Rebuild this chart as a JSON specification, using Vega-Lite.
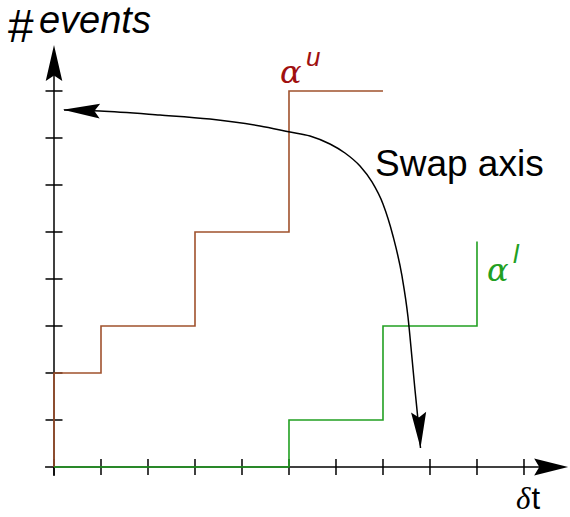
{
  "$schema": "https://vega.github.io/schema/vega-lite/v6.json",
  "width": 570,
  "height": 517,
  "padding": 0,
  "autosize": "none",
  "background": "white",
  "config": {"view": {"stroke": null}},
  "encoding": {
    "x": {"field": "x", "type": "quantitative", "axis": null, "scale": {"domain": [-1.149, 10.979], "nice": false, "zero": false}},
    "y": {"field": "y", "type": "quantitative", "axis": null, "scale": {"domain": [-1.064, 9.936], "nice": false, "zero": false}}
  },
  "layer": [
    {
      "data": {"values": [
        {"x": -0.19, "y": 0, "x2": 10.6, "y2": 0},
        {"x": 0, "y": -0.19, "x2": 0, "y2": 8.6}
      ]},
      "mark": {"type": "rule", "color": "black", "strokeWidth": 1.5},
      "encoding": {"x2": {"field": "x2"}, "y2": {"field": "y2"}}
    },
    {
      "data": {"values": [
        {"x": 0, "y": 0}, {"x": 1, "y": 0}, {"x": 2, "y": 0}, {"x": 3, "y": 0},
        {"x": 4, "y": 0}, {"x": 5, "y": 0}, {"x": 6, "y": 0}, {"x": 7, "y": 0},
        {"x": 8, "y": 0}, {"x": 9, "y": 0}, {"x": 10, "y": 0}
      ]},
      "mark": {"type": "tick", "orient": "vertical", "color": "black", "size": 16, "thickness": 1.5, "opacity": 1}
    },
    {
      "data": {"values": [
        {"x": 0, "y": 1}, {"x": 0, "y": 2}, {"x": 0, "y": 3}, {"x": 0, "y": 4},
        {"x": 0, "y": 5}, {"x": 0, "y": 6}, {"x": 0, "y": 7}, {"x": 0, "y": 8}
      ]},
      "mark": {"type": "tick", "orient": "horizontal", "color": "black", "size": 17, "thickness": 1.5, "opacity": 1}
    },
    {
      "data": {"values": [
        {"x": 0, "y": 0}, {"x": 0, "y": 2}, {"x": 1, "y": 3}, {"x": 3, "y": 5}, {"x": 5, "y": 8}, {"x": 7, "y": 8}
      ]},
      "mark": {"type": "line", "interpolate": "step-after", "color": "#a0522d", "strokeWidth": 1.6}
    },
    {
      "data": {"values": [
        {"x": 0, "y": 0}, {"x": 5, "y": 1}, {"x": 7, "y": 3}, {"x": 9, "y": 4.8}
      ]},
      "mark": {"type": "line", "interpolate": "step-after", "color": "#22a022", "strokeWidth": 1.6}
    },
    {
      "data": {"values": [
        {"x": 0.213, "y": 7.596}, {"x": 0.979, "y": 7.574}, {"x": 2.255, "y": 7.489},
        {"x": 3.319, "y": 7.404}, {"x": 4.383, "y": 7.255}, {"x": 5.021, "y": 7.128},
        {"x": 5.447, "y": 7.043}, {"x": 5.872, "y": 6.872}, {"x": 6.191, "y": 6.681},
        {"x": 6.511, "y": 6.404}, {"x": 6.766, "y": 6.064}, {"x": 7.0, "y": 5.596},
        {"x": 7.213, "y": 4.915}, {"x": 7.404, "y": 4.064}, {"x": 7.532, "y": 3.191},
        {"x": 7.617, "y": 2.319}, {"x": 7.681, "y": 1.638}, {"x": 7.745, "y": 1.0},
        {"x": 7.798, "y": 0.404}
      ]},
      "mark": {"type": "line", "interpolate": "monotone", "color": "black", "strokeWidth": 1.5}
    },
    {
      "data": {"values": [{"x": 0, "y": 8.98}]},
      "mark": {"type": "point", "filled": true, "color": "black", "opacity": 1, "size": 1296, "angle": 270,
               "shape": "M0,0 L-2,-0.46 L-1.7,0 L-2,0.46 Z"}
    },
    {
      "data": {"values": [{"x": 10.94, "y": 0}]},
      "mark": {"type": "point", "filled": true, "color": "black", "opacity": 1, "size": 1156, "angle": 0,
               "shape": "M0,0 L-2,-0.5 L-1.7,0 L-2,0.5 Z"}
    },
    {
      "data": {"values": [{"x": 0.19, "y": 7.6}]},
      "mark": {"type": "point", "filled": true, "color": "black", "opacity": 1, "size": 1369, "angle": 182,
               "shape": "M0,0 L-2,-0.4 L-1.7,0 L-2,0.4 Z"}
    },
    {
      "data": {"values": [{"x": 7.798, "y": 0.404}]},
      "mark": {"type": "point", "filled": true, "color": "black", "opacity": 1, "size": 1296, "angle": 87,
               "shape": "M0,0 L-2,-0.42 L-1.7,0 L-2,0.42 Z"}
    },
    {
      "data": {"values": [{"x": -0.979, "y": 9.043, "label": "#"}]},
      "mark": {"type": "text", "align": "left", "baseline": "alphabetic", "font": "Liberation Sans", "fontSize": 46, "fontWeight": 300, "color": "black"},
      "encoding": {"text": {"field": "label"}}
    },
    {
      "data": {"values": [{"x": -0.32, "y": 9.234, "label": "events"}]},
      "mark": {"type": "text", "align": "left", "baseline": "alphabetic", "font": "Liberation Sans", "fontStyle": "italic", "fontSize": 38, "color": "black"},
      "encoding": {"text": {"field": "label"}}
    },
    {
      "data": {"values": [{"x": 6.83, "y": 6.191, "label": "Swap axis"}]},
      "mark": {"type": "text", "align": "left", "baseline": "alphabetic", "font": "Liberation Sans", "fontSize": 37, "color": "black"},
      "encoding": {"text": {"field": "label"}}
    },
    {
      "data": {"values": [{"x": 9.83, "y": -0.894, "label": "δ"}]},
      "mark": {"type": "text", "align": "left", "baseline": "alphabetic", "font": "Liberation Serif", "fontStyle": "italic", "fontSize": 31, "color": "black"},
      "encoding": {"text": {"field": "label"}}
    },
    {
      "data": {"values": [{"x": 10.16, "y": -0.894, "label": "t"}]},
      "mark": {"type": "text", "align": "left", "baseline": "alphabetic", "font": "Liberation Sans", "fontSize": 31, "color": "black"},
      "encoding": {"text": {"field": "label"}}
    },
    {
      "data": {"values": [{"x": 4.809, "y": 8.17, "label": "α"}]},
      "mark": {"type": "text", "align": "left", "baseline": "alphabetic", "font": "DejaVu Serif", "fontStyle": "italic", "fontSize": 32, "color": "#a01010"},
      "encoding": {"text": {"field": "label"}}
    },
    {
      "data": {"values": [{"x": 5.362, "y": 8.532, "label": "u"}]},
      "mark": {"type": "text", "align": "left", "baseline": "alphabetic", "font": "Liberation Sans", "fontStyle": "italic", "fontSize": 26, "color": "#a01010"},
      "encoding": {"text": {"field": "label"}}
    },
    {
      "data": {"values": [{"x": 9.213, "y": 3.957, "label": "α"}]},
      "mark": {"type": "text", "align": "left", "baseline": "alphabetic", "font": "DejaVu Serif", "fontStyle": "italic", "fontSize": 32, "color": "#22a022"},
      "encoding": {"text": {"field": "label"}}
    },
    {
      "data": {"values": [{"x": 9.766, "y": 4.34, "label": "l"}]},
      "mark": {"type": "text", "align": "left", "baseline": "alphabetic", "font": "Liberation Sans", "fontStyle": "italic", "fontSize": 26, "color": "#22a022"},
      "encoding": {"text": {"field": "label"}}
    }
  ]
}
